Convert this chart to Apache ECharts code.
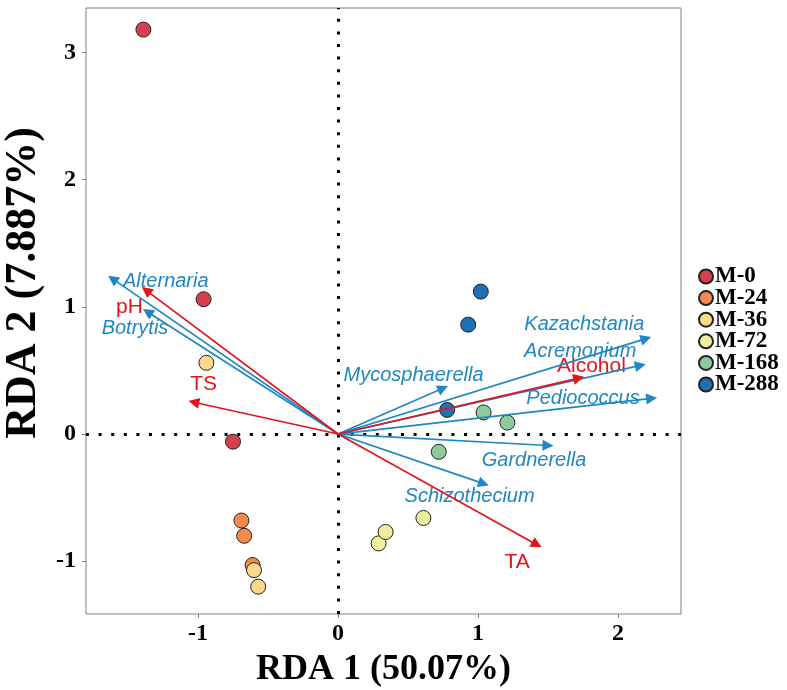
<!DOCTYPE html>
<html>
<head>
<meta charset="utf-8">
<script src="https://cdn.jsdelivr.net/npm/echarts@6/dist/echarts.min.js"></script>
<style>
  html, body { margin: 0; padding: 0; background: #fff; }
  #main { width: 787px; height: 690px; }
</style>
</head>
<body>
<div id="main"></div>
<script>
// 样本点 (RDA1, RDA2)
const groups = ['M-0', 'M-24', 'M-36', 'M-72', 'M-168', 'M-288'];
const groupColors = ['#d6404e', '#f58a4f', '#fbd98a', '#eff09e', '#8ecb9c', '#1f70b3'];
const m0 = [[-1.39, 3.18], [-0.96, 1.06], [-0.75, -0.06]];
const m24 = [[-0.69, -0.68], [-0.67, -0.80], [-0.61, -1.03]];
const m36 = [[-0.94, 0.56], [-0.60, -1.07], [-0.57, -1.20]];
const m72 = [[0.29, -0.86], [0.34, -0.77], [0.61, -0.66]];
const m168 = [[0.72, -0.14], [1.04, 0.17], [1.21, 0.09]];
const m288 = [[1.02, 1.12], [0.93, 0.86], [0.78, 0.19]];
const groupPoints = [m0, m24, m36, m72, m168, m288];

// 箭头：物种 (蓝) 与 环境因子 (红)
const speciesNames = ['Alternaria', 'Botrytis', 'Kazachstania', 'Acremonium', 'Pediococcus', 'Mycosphaerella', 'Gardnerella', 'Schizothecium'];
const speciesTips = [[-1.61, 1.22], [-1.36, 0.96], [2.20, 0.75], [2.16, 0.54], [2.24, 0.28], [0.75, 0.36], [1.50, -0.09], [1.04, -0.39]];
const speciesLabelAt = [[-1.23, 1.20], [-1.45, 0.83], [1.76, 0.86], [1.73, 0.65], [1.75, 0.28], [0.54, 0.46], [1.40, -0.21], [0.94, -0.49]];
const envNames = ['pH', 'TS', 'Alcohol', 'TA'];
const envTips = [[-1.37, 1.13], [-1.03, 0.25], [1.72, 0.44], [1.42, -0.87]];
const envLabelAt = [[-1.49, 1.00], [-0.96, 0.39], [1.81, 0.53], [1.28, -1.01]];

// 坐标轴
const xRange = [-1.8, 2.45];
const yRange = [-1.415, 3.35];
const xTicks = [-1, 0, 1, 2];
const yTicks = [-1, 0, 1, 2, 3];

const blue = '#1f87c2';
const red = '#e3141b';
const serif = '"Liberation Serif", "Times New Roman", serif';
const sans = '"Liberation Sans", Arial, sans-serif';

const chart = echarts.init(document.getElementById('main'));

const pointSeries = groups.map((g, i) => ({
  name: g,
  type: 'scatter',
  z: 3,
  symbolSize: 15,
  itemStyle: { color: groupColors[i], borderColor: '#222', borderWidth: 1, opacity: 1 },
  data: groupPoints[i],
}));

const arrowData = speciesTips
  .map((t) => ({ coords: [[0, 0], t], lineStyle: { color: blue } }))
  .concat(envTips.map((t) => ({ coords: [[0, 0], t], lineStyle: { color: red } })));

const labelData = speciesNames
  .map((n, i) => ({ name: n, value: speciesLabelAt[i], label: { color: blue, fontStyle: 'italic', fontSize: 20 } }))
  .concat(envNames.map((n, i) => ({ name: n, value: envLabelAt[i], label: { color: red, fontSize: 21 } })));

chart.setOption({
  animation: false,
  backgroundColor: '#fff',
  grid: {
    left: 86,
    right: 106,
    top: 8,
    bottom: 76,
    outerBoundsMode: 'none',
    show: true,
    borderColor: '#808080',
    borderWidth: 1,
  },
  // y 轴标题单独放，位置略偏上
  graphic: [
    {
      type: 'text',
      x: 24,
      y: 283,
      rotation: Math.PI / 2,
      style: {
        text: 'RDA 2 (7.887%)',
        fontFamily: serif,
        fontWeight: 'bold',
        fontSize: 44,
        fill: '#000',
        textAlign: 'center',
        textVerticalAlign: 'middle',
      },
    },
  ],
  legend: {
    orient: 'vertical',
    left: 698,
    top: 265,
    padding: 0,
    itemWidth: 14,
    itemHeight: 14,
    itemGap: -1.4,
    icon: 'circle',
    data: groups,
    textStyle: { fontFamily: serif, fontWeight: 'bold', fontSize: 23, color: '#000', padding: [0, 0, 0, -3] },
  },
  xAxis: {
    type: 'value',
    min: xRange[0],
    max: xRange[1],
    name: 'RDA 1 (50.07%)',
    nameLocation: 'middle',
    nameGap: 38,
    nameTextStyle: { fontFamily: serif, fontWeight: 'bold', fontSize: 36, color: '#000' },
    axisLine: { show: false, onZero: false },
    splitLine: { show: false },
    axisTick: { show: true, length: 4, customValues: xTicks, lineStyle: { color: '#808080' } },
    axisLabel: { customValues: xTicks, margin: 8, fontFamily: serif, fontWeight: 'bold', fontSize: 24, color: '#000' },
  },
  yAxis: {
    type: 'value',
    min: yRange[0],
    max: yRange[1],
    axisLine: { show: false, onZero: false },
    splitLine: { show: false },
    axisTick: { show: true, length: 4, customValues: yTicks, lineStyle: { color: '#808080' } },
    axisLabel: { customValues: yTicks, margin: 10, fontFamily: serif, fontWeight: 'bold', fontSize: 24, color: '#000' },
  },
  series: [
    // 零线
    {
      type: 'lines',
      coordinateSystem: 'cartesian2d',
      silent: true,
      z: 1,
      symbol: 'none',
      lineStyle: { color: '#000', width: 3, type: [3, 9.6], opacity: 1 },
      data: [
        { coords: [[0, yRange[0]], [0, yRange[1]]] },
        { coords: [[xRange[0], 0], [xRange[1], 0]] },
      ],
    },
    ...pointSeries,
    // 文字
    {
      type: 'scatter',
      silent: true,
      z: 4,
      symbolSize: 0,
      itemStyle: { opacity: 1 },
      label: {
        show: true,
        position: 'inside',
        fontFamily: sans,
        formatter: (p) => p.name,
      },
      data: labelData,
    },
    // 箭头
    {
      type: 'lines',
      coordinateSystem: 'cartesian2d',
      silent: true,
      z: 5,
      symbol: ['none', 'triangle'],
      symbolSize: 11,
      lineStyle: { width: 1.7, opacity: 1 },
      data: arrowData,
    },
  ],
});
</script>
</body>
</html>
